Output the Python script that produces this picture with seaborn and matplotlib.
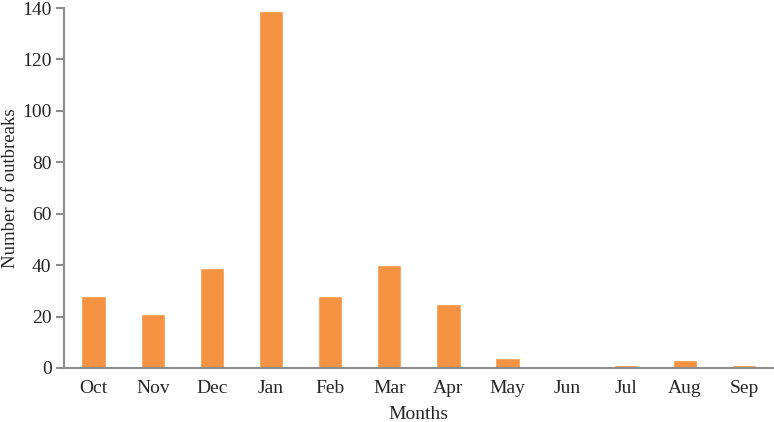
import numpy as np
import pandas as pd
import seaborn as sns
from matplotlib import pyplot as plt

months = ['Oct', 'Nov', 'Dec', 'Jan', 'Feb', 'Mar', 'Apr', 'May', 'Jun', 'Jul', 'Aug', 'Sep']
outbreaks = [28, 21, 39, 139, 28, 40, 25, 4, 0, 1, 3, 1]

sns.set_style('white')
plt.rcParams['font.family'] = ['Liberation Serif', 'DejaVu Serif']

df = pd.DataFrame({'Months': months, 'Number of outbreaks': outbreaks})

fig = plt.figure(figsize=(7.74, 4.22), dpi=100)
ax = fig.add_axes([0.0827, 0.128, 0.917, 0.853])
sns.barplot(data=df, x='Months', y='Number of outbreaks', color='#F59343',
            saturation=1, width=0.41, ax=ax)

ax.set_ylim(0, 140)
ax.set_yticks(np.arange(0, 141, 20))
ax.set_xlim(-0.5, 11.5)
for side in ['top', 'right']:
    ax.spines[side].set_visible(False)
for side in ['left', 'bottom']:
    ax.spines[side].set_color('#8c8c8c')
    ax.spines[side].set_linewidth(1.5)
ax.tick_params(axis='y', which='major', direction='out', length=6, width=1.5,
               color='#8c8c8c', left=True, labelsize=14, pad=3)
ax.tick_params(axis='x', length=0, labelsize=14, pad=9)
ax.set_xlabel('Months', fontsize=14)
ax.set_ylabel('Number of outbreaks', fontsize=13.5)
ax.xaxis.set_label_coords(0.5, -0.128)
ax.yaxis.set_label_coords(-0.076, 0.5)
ax.xaxis.label.set_va('center')
ax.yaxis.label.set_va('center')

plt.savefig('out.png', dpi=100)
